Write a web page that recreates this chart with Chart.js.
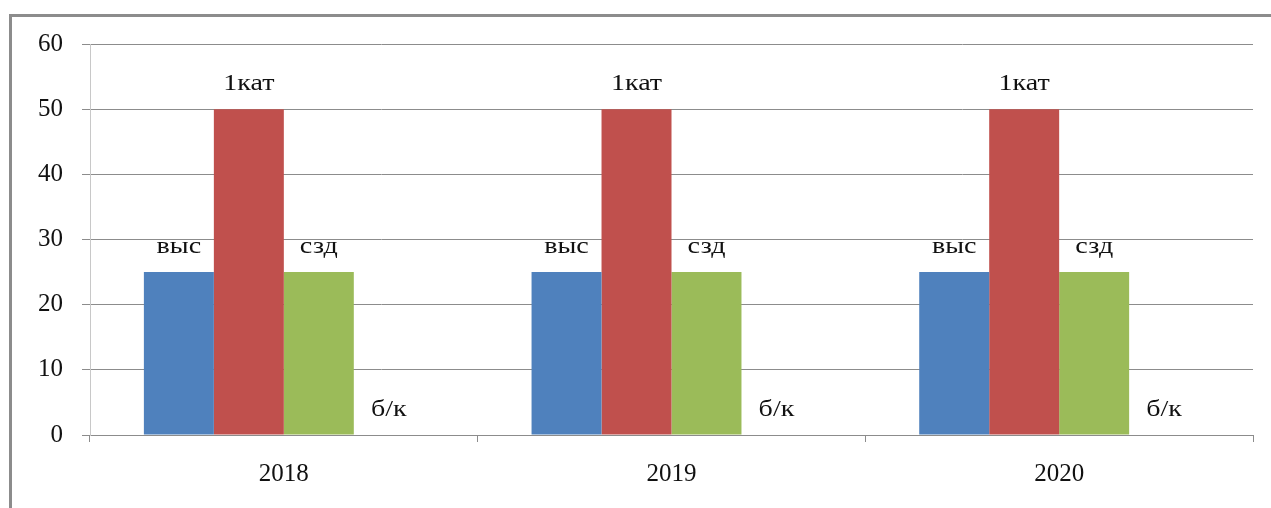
<!DOCTYPE html>
<html>
<head>
<meta charset="utf-8">
<script src="https://cdn.jsdelivr.net/npm/chart.js@4"></script>
<style>
  html, body { margin: 0; padding: 0; background: #fff; overflow: hidden; }
  #wrap { position: relative; width: 1271px; height: 508px; }
  #frame { position: absolute; left: 9px; top: 14px; width: 1300px; height: 600px;
           border-left: 3px solid #8c8c8c; border-top: 3px solid #8c8c8c; }
  canvas { position: absolute; left: 0; top: 0; }
</style>
</head>
<body>
<div id="wrap">
  <div id="frame"></div>
  <canvas id="chart" width="1271" height="508"></canvas>
</div>
<script>
// Data
const years = ["2018", "2019", "2020"];
const seriesNames = ["выс", "1кат", "сзд", "б/к"];
const vysValues = [25, 25, 25];
const katValues = [50, 50, 50];
const szdValues = [25, 25, 25];
const bkValues = [0, 0, 0];
const yTicks = [0, 10, 20, 30, 40, 50, 60];

const colors = ["#4F81BD", "#C0504D", "#9BBB59", "#8064A2"];
const serif = "'Liberation Serif', 'DejaVu Serif', serif";

// Series name drawn above every bar (slightly widened like the original)
const barLabels = {
    id: "barLabels",
    afterDatasetsDraw(chart) {
        const ctx = chart.ctx;
        chart.data.datasets.forEach((ds, i) => {
            chart.getDatasetMeta(i).data.forEach(bar => {
                ctx.save();
                ctx.translate(bar.x, bar.y - 25);
                ctx.scale(1.22, 1);
                ctx.font = "23px " + serif;
                ctx.fillStyle = "#111";
                ctx.textAlign = "center";
                ctx.textBaseline = "middle";
                ctx.fillText(ds.label, 0, 0);
                ctx.restore();
            });
        });
    }
};

const allValues = [vysValues, katValues, szdValues, bkValues];

new Chart(document.getElementById("chart"), {
    type: "bar",
    data: {
        labels: years,
        datasets: seriesNames.map((name, i) => ({
            label: name,
            data: allValues[i],
            backgroundColor: colors[i],
            borderWidth: 0,
            categoryPercentage: 0.722,
            barPercentage: 1
        }))
    },
    options: {
        responsive: false,
        animation: false,
        devicePixelRatio: 1,
        layout: { padding: { left: 0, right: 18, top: 44, bottom: 0 } },
        plugins: { legend: { display: false }, tooltip: { enabled: false } },
        scales: {
            x: {
                grid: { drawOnChartArea: false, drawTicks: true, tickLength: 7, color: "#8c8c8c", offset: true },
                border: { display: true, color: "#8c8c8c", width: 1 },
                ticks: { font: { family: serif, size: 25 }, color: "#111", padding: 17 },
                afterFit(scale) { scale.height = 73; }
            },
            y: {
                min: 0,
                max: 60,
                afterBuildTicks(scale) { scale.ticks = yTicks.map(v => ({ value: v })); },
                grid: { color: "#8c8c8c", tickLength: 8, lineWidth: 1 },
                border: { display: true, color: "#c8c8c8", width: 1 },
                ticks: { font: { family: serif, size: 25 }, color: "#111", padding: 19 },
                afterFit(scale) { scale.width = 90; }
            }
        }
    },
    plugins: [barLabels]
});
</script>
</body>
</html>
